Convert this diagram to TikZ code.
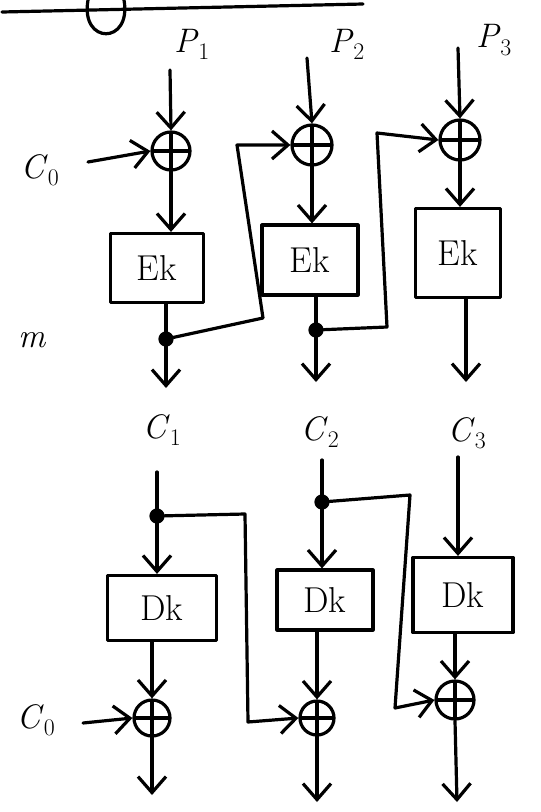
\documentclass[tikz,border=0pt]{standalone}
\usepackage{fontspec}
\usetikzlibrary{arrows.meta}
\newcommand{\lbl}[2]{\textit{#1}\textsubscript{#2}}
\begin{document}
\begin{tikzpicture}[x=1pt,y=-1pt,line width=3.2pt,line cap=round,line join=round,
  tip/.style={-{Straight Barb[length=16pt,width=28pt,line width=3.2pt]}},
  xor/.style={circle,draw,line width=3.2pt,minimum size=#1,inner sep=0pt,
    path picture={\draw[line width=3.2pt] (path picture bounding box.north) -- (path picture bounding box.south)
      (path picture bounding box.west) -- (path picture bounding box.east);}},
  xor/.default=38pt,
  blk/.style={draw,line width=3.2pt,inner sep=0pt,font=\fontsize{36}{38}\selectfont},
  dotn/.style={circle,fill=black,draw,inner sep=0pt,minimum size=12pt},
  lab/.style={font=\fontsize{34}{36}\selectfont}]
\useasboundingbox (0,0) rectangle (541,812);
% top fragment
\draw (2,12) -- (363,4);
\draw (88,0) .. controls (80,45) and (132,45) .. (124,0);
% labels
\node[lab] (lp1) at (192,44) {\lbl{P}{1}};
\node[lab] (lp2) at (347,44) {\lbl{P}{2}};
\node[lab] (lp3) at (494,40) {\lbl{P}{3}};
\node[lab] (lc0a) at (40,170) {\lbl{C}{0}};
\node[lab] (lm) at (32,340) {\textit{m}};
\node[lab] (lc1) at (162,430) {\lbl{C}{1}};
\node[lab] (lc2) at (320,432) {\lbl{C}{2}};
\node[lab] (lc3) at (467,433) {\lbl{C}{3}};
\node[lab] (lc0b) at (36,720) {\lbl{C}{0}};
% encryption row
\node[xor] (x1) at (171,151) {};
\node[xor=40pt] (x2) at (312,145) {};
\node[xor=40pt] (x3) at (460,140) {};
\node[blk,minimum width=93pt,minimum height=69pt] (e1) at (157,268) {Ek};
\node[blk,minimum width=96pt,minimum height=70pt] (e2) at (310,260) {Ek};
\node[blk,minimum width=85pt,minimum height=89pt] (e3) at (458,253) {Ek};
\node[dotn] (d1) at (166,339) {};
\node[dotn] (d2) at (316,330) {};
\coordinate (p1) at (170,70);
\coordinate (p2) at (307,58);
\coordinate (p3) at (458,48);
\coordinate (c0a) at (88,162);
\coordinate (o1) at (166,388);
\coordinate (o2) at (316,382);
\coordinate (o3) at (466,382);
\coordinate (k1a) at (263,318);
\coordinate (k1b) at (237,145);
\coordinate (k2a) at (387,327);
\coordinate (k2b) at (377,133);
\draw[tip] (p1) -- (x1.north);
\draw[tip] (p2) -- (x2.north);
\draw[tip] (p3) -- (x3.north);
\draw[tip] (c0a) -- (x1.west);
\draw[tip] (x1.south) -- (x1.south |- e1.north);
\draw[tip] (x2.south) -- (x2.south |- e2.north);
\draw[tip] (x3.south) -- (x3.south |- e3.north);
\draw (d1 |- e1.south) -- (d1);
\draw (d2 |- e2.south) -- (d2);
\draw[tip] (d1) -- (o1);
\draw[tip] (d2) -- (o2);
\draw[tip] (o3 |- e3.south) -- (o3);
\draw[tip] (d1) -- (k1a) -- (k1b) -- (x2.west);
\draw[tip] (d2) -- (k2a) -- (k2b) -- (x3.west);
% decryption row
\node[blk,minimum width=109pt,minimum height=65pt] (dk1) at (162,608) {Dk};
\node[blk,minimum width=96pt,minimum height=60pt] (dk2) at (325,600) {Dk};
\node[blk,minimum width=100pt,minimum height=75pt] (dk3) at (463,595) {Dk};
\node[dotn] (d3) at (157,516) {};
\node[dotn] (d4) at (322,502) {};
\node[xor=36pt] (x4) at (152,718) {};
\node[xor=34pt] (x5) at (317,718) {};
\node[xor=38pt] (x6) at (455,700) {};
\coordinate (i1) at (157,472);
\coordinate (i2) at (322,460);
\coordinate (i3) at (458,457);
\coordinate (c0b) at (83,723);
\coordinate (j1a) at (245,514);
\coordinate (j1b) at (248,722);
\coordinate (j2a) at (410,495);
\coordinate (j2b) at (395,708);
\coordinate (q1) at (152,795);
\coordinate (q2) at (317,802);
\coordinate (q3) at (457,802);
\draw (i1) -- (d3);
\draw (i2) -- (d4);
\draw[tip] (d3) -- (d3 |- dk1.north);
\draw[tip] (d4) -- (d4 |- dk2.north);
\draw[tip] (i3) -- (i3 |- dk3.north);
\draw[tip] (d3) -- (j1a) -- (j1b) -- (x5.west);
\draw[tip] (d4) -- (j2a) -- (j2b) -- (x6.west);
\draw[tip] (c0b) -- (x4.west);
\draw[tip] (x4 |- dk1.south) -- (x4.north);
\draw[tip] (x5 |- dk2.south) -- (x5.north);
\draw[tip] (x6 |- dk3.south) -- (x6.north);
\draw[tip] (x4.south) -- (q1);
\draw[tip] (x5.south) -- (q2);
\draw[tip] (x6.south) -- (q3);
\end{tikzpicture}
\end{document}
